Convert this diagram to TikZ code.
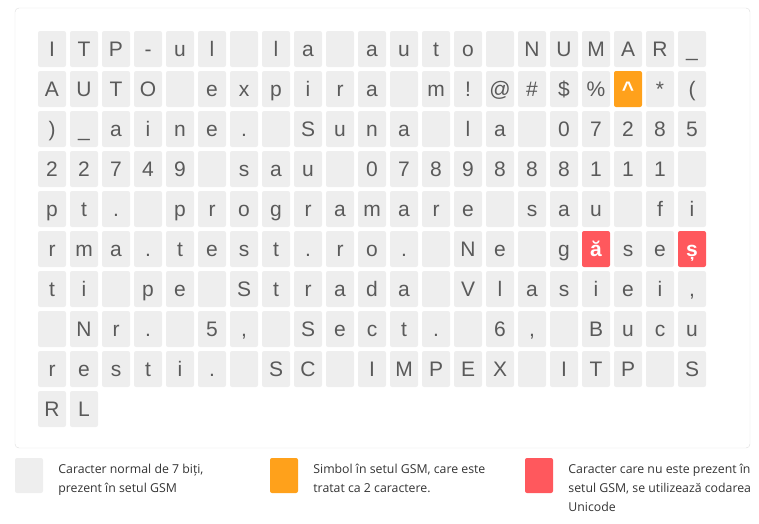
\documentclass[tikz,border=0pt]{standalone}
\usepackage{fontspec}
\setmainfont{Liberation Sans}
\newfontfamily\legendfont{Open Sans}
\usetikzlibrary{positioning}
\definecolor{cellgray}{HTML}{EEEEEE}
\definecolor{chrtext}{HTML}{5A5A5A}
\definecolor{gsmorange}{HTML}{FFA11B}
\definecolor{unired}{HTML}{FF585D}
\definecolor{framegray}{HTML}{DDDDDD}
\definecolor{legtextcol}{HTML}{333333}
\tikzset{
  chr/.style={fill=cellgray, rounded corners=2pt, inner sep=0pt,
    minimum width=28pt, minimum height=36pt, text height=15.5pt, text depth=1pt,
    text=chrtext, font=\fontsize{21}{21}\selectfont},
  gsmext/.style={fill=gsmorange, text=white, font=\fontsize{21}{21}\selectfont\bfseries},
  unicd/.style={fill=unired, text=white, font=\fontsize{21}{21}\selectfont\bfseries},
  c2-19/.style={gsmext},
  c6-18/.style={unicd},
  c6-21/.style={unicd},
  legbox/.style={rounded corners=2pt, minimum width=28pt, minimum height=35pt, inner sep=0pt},
  legtext/.style={inner sep=0pt, align=left, text=legtextcol,
    font=\legendfont\fontsize{12.3}{19}\selectfont}
}
\begin{document}
\begin{tikzpicture}[x=1pt, y=-1pt]
\useasboundingbox (0,0) rectangle (759,523);
\draw [framegray, rounded corners=4pt] (15,8) rectangle (750,448);
\foreach \row [count=\r] in {
  {I,T,P,-,u,l,{},l,a,{},a,u,t,o,{},N,U,M,A,R,\_},
  {A,U,T,O,{},e,x,p,i,r,a,{},m,!,@,\#,\$,\%,\textasciicircum,*,{(}},
  {{)},\_,a,i,n,e,.,{},S,u,n,a,{},l,a,{},0,7,2,8,5},
  {2,2,7,4,9,{},s,a,u,{},0,7,8,9,8,8,8,1,1,1,{}},
  {p,t,.,{},p,r,o,g,r,a,m,a,r,e,{},s,a,u,{},f,i},
  {r,m,a,.,t,e,s,t,.,r,o,.,{},N,e,{},g,ă,s,e,ș},
  {t,i,{},p,e,{},S,t,r,a,d,a,{},V,l,a,s,i,e,i,{,}},
  {{},N,r,.,{},5,{,},{},S,e,c,t,.,{},6,{,},{},B,u,c,u},
  {r,e,s,t,i,.,{},S,C,{},I,M,P,E,X,{},I,T,P,{},S},
  {R,L}}
  \foreach \ch [count=\i] in \row
    \node [chr, c\r-\i/.try] (c\r-\i) at ({52+32*(\i-1)}, {49+40*(\r-1)}) {\ch};

\node (leg1) [legbox, fill=cellgray] at (29,475.5) {};
\node (leg2) [legbox, fill=gsmorange] at (284,475.5) {};
\node (leg3) [legbox, fill=unired] at (539,475.5) {};
\node (leg1txt) [legtext, right=15pt of leg1.north east, anchor=north west, yshift=-1.7pt]
  {\strut Caracter normal de 7 biți,\\prezent în setul GSM};
\node (leg2txt) [legtext, right=15pt of leg2.north east, anchor=north west, yshift=-1.7pt]
  {\strut Simbol în setul GSM, care este\\tratat ca 2 caractere.};
\node (leg3txt) [legtext, right=15pt of leg3.north east, anchor=north west, yshift=-1.7pt]
  {\strut Caracter care nu este prezent în\\setul GSM, se utilizează codarea\\Unicode};
\end{tikzpicture}
\end{document}
